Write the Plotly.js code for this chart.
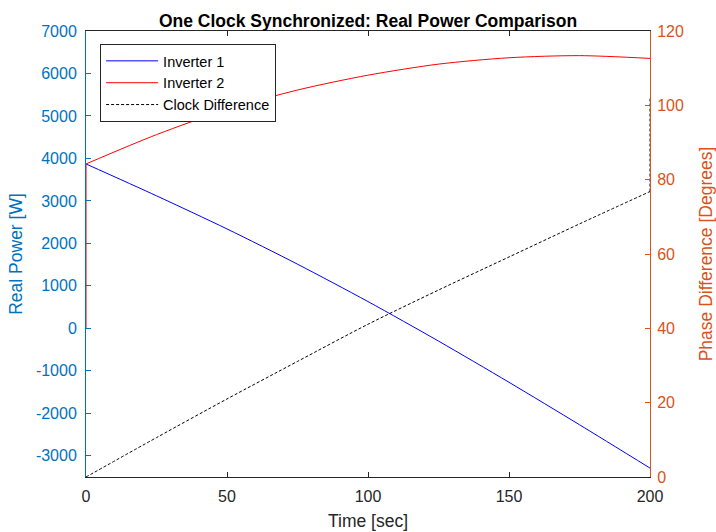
<!DOCTYPE html>
<html>
<head>
<meta charset="utf-8">
<script src="https://cdn.plot.ly/plotly-3.0.1.min.js"></script>
<style>html,body{margin:0;padding:0;background:#fff;}#chart{width:716px;height:532px;}</style>
</head>
<body>
<div id="chart"></div>
<script>
// Time samples (sec)
const timeSec = [0, 25, 50, 75, 100, 125, 150, 175, 200];
// Inverter 1 real power [W]
const inverter1 = [3870, 3120, 2340, 1510, 630, -300, -1270, -2270, -3290];
// Inverter 2 real power [W] (starts at 0 at t=0, then jumps)
const inverter2Start = [0, 3870];
const inverter2 = [3870, 4560, 5150, 5610, 5960, 6220, 6370, 6420, 6355];
// Clock difference [degrees]
const clockDiff = [0, 10.6, 21.0, 31.1, 41.1, 50.3, 59.2, 68.1, 76.8];
const clockDiffEnd = [76.8, 102.3];
// Ticks
const leftTicks = [-3000, -2000, -1000, 0, 1000, 2000, 3000, 4000, 5000, 6000, 7000];
const rightTicks = [0, 20, 40, 60, 80, 100, 120];
const xTicks = [0, 50, 100, 150, 200];

const FONT = 'Liberation Sans, Arial, Helvetica, sans-serif';
const BLUEAX = '#0072BD', ORANGEAX = '#D95319', DARK = '#262626';

const traces = [
  {x: timeSec, y: inverter1, name: 'Inverter 1', type: 'scatter', mode: 'lines',
   line: {color: '#0000FF', width: 1, shape: 'spline', smoothing: 0.8}, yaxis: 'y', legendgroup: 'i1'},
  {x: timeSec, y: inverter2, name: 'Inverter 2', type: 'scatter', mode: 'lines',
   line: {color: '#FF0000', width: 1, shape: 'spline', smoothing: 0.8}, yaxis: 'y', legendgroup: 'i2'},
  {x: [timeSec[0], timeSec[0]], y: inverter2Start, name: 'Inverter 2', type: 'scatter', mode: 'lines',
   line: {color: '#FF0000', width: 1}, yaxis: 'y', legendgroup: 'i2', showlegend: false},
  {x: timeSec, y: clockDiff, name: 'Clock Difference', type: 'scatter', mode: 'lines',
   line: {color: '#000000', width: 1, dash: '3px,2px', shape: 'spline', smoothing: 0.8}, yaxis: 'y2', legendgroup: 'cd'},
  {x: [timeSec[timeSec.length-1], timeSec[timeSec.length-1]], y: clockDiffEnd, name: 'Clock Difference', type: 'scatter', mode: 'lines',
   line: {color: '#000000', width: 1, dash: '3px,2px'}, yaxis: 'y2', legendgroup: 'cd', showlegend: false}
];

const layout = {
  width: 716, height: 532,
  margin: {l: 86, r: 66, t: 31, b: 55, pad: 0},
  paper_bgcolor: '#ffffff', plot_bgcolor: '#ffffff',
  font: {family: FONT, size: 16, color: DARK},
  showlegend: true,
  title: {text: '<b>One Clock Synchronized: Real Power Comparison</b>',
          font: {family: FONT, size: 17.5, color: '#000000'},
          x: 0.5, xref: 'paper', xanchor: 'center', y: 1, yref: 'paper', yanchor: 'bottom', pad: {b: 4}},
  xaxis: {range: [0, 200], tickvals: xTicks, ticktext: xTicks.map(String),
          ticks: 'inside', ticklen: 5, tickcolor: DARK, tickwidth: 1,
          showline: true, linecolor: DARK, linewidth: 1, mirror: 'ticks',
          showgrid: false, zeroline: false, ticklabelstandoff: 5,
          tickfont: {family: FONT, size: 16, color: DARK},
          title: {text: 'Time [sec]', font: {family: FONT, size: 17.5, color: DARK}, standoff: 10},
          automargin: false},
  yaxis: {range: [-3500, 7000], tickvals: leftTicks, ticktext: leftTicks.map(String),
          ticks: 'inside', ticklen: 5, tickcolor: BLUEAX, tickwidth: 1,
          showline: true, linecolor: BLUEAX, linewidth: 1, mirror: false,
          showgrid: false, zeroline: false, ticklabelstandoff: 5,
          tickfont: {family: FONT, size: 16, color: BLUEAX},
          title: {text: 'Real Power [W]', font: {family: FONT, size: 17.5, color: BLUEAX}, standoff: 8},
          automargin: false},
  yaxis2: {range: [0, 120], tickvals: rightTicks, ticktext: rightTicks.map(String),
          overlaying: 'y', side: 'right',
          ticks: 'inside', ticklen: 5, tickcolor: ORANGEAX, tickwidth: 1,
          showline: true, linecolor: ORANGEAX, linewidth: 1,
          showgrid: false, zeroline: false, ticklabelstandoff: 3,
          tickfont: {family: FONT, size: 16, color: ORANGEAX},
          title: {text: 'Phase Difference [Degrees]', font: {family: FONT, size: 17.5, color: ORANGEAX}, standoff: 18},
          automargin: false},
  legend: {x: 0.025, y: 0.971, xanchor: 'left', yanchor: 'top',
           bgcolor: '#ffffff', bordercolor: DARK, borderwidth: 1,
           font: {family: FONT, size: 14.5, color: '#000000'},
           tracegroupgap: 0, itemwidth: 52}
};

Plotly.newPlot('chart', traces, layout, {displayModeBar: false, staticPlot: true});
</script>
</body>
</html>
